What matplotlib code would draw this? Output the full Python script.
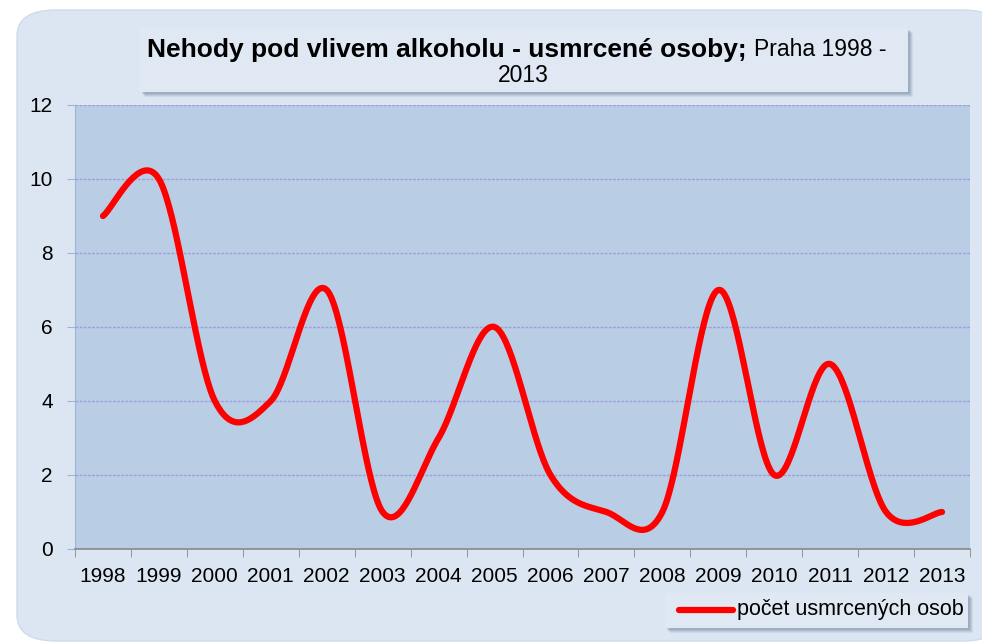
import numpy as np
import matplotlib.pyplot as plt
from matplotlib.patches import FancyBboxPatch, Rectangle

plt.rcParams['font.family'] = ['Liberation Sans', 'DejaVu Sans']

# data
years = ['1998', '1999', '2000', '2001', '2002', '2003', '2004', '2005',
         '2006', '2007', '2008', '2009', '2010', '2011', '2012', '2013']
killed = [9, 10, 4, 4, 7, 1, 3, 6, 2, 1, 1, 7, 2, 5, 1, 1]
series_name = 'počet usmrcených osob'


def smooth(xs, ys, n=40):
    # Excel-like smoothed line: cubic Bezier through points, Catmull-Rom controls
    xs = np.asarray(xs, float)
    ys = np.asarray(ys, float)
    px = np.concatenate([[xs[0]], xs, [xs[-1]]])
    py = np.concatenate([[ys[0]], ys, [ys[-1]]])
    out_x, out_y = [], []
    t = np.linspace(0, 1, n)
    for i in range(1, len(px) - 2):
        p0 = np.array([px[i], py[i]])
        p3 = np.array([px[i + 1], py[i + 1]])
        p1 = p0 + (np.array([px[i + 1], py[i + 1]]) - np.array([px[i - 1], py[i - 1]])) / 6
        p2 = p3 - (np.array([px[i + 2], py[i + 2]]) - np.array([px[i], py[i]])) / 6
        b = ((1 - t) ** 3)[:, None] * p0 + (3 * (1 - t) ** 2 * t)[:, None] * p1 \
            + (3 * (1 - t) * t ** 2)[:, None] * p2 + (t ** 3)[:, None] * p3
        out_x.extend(b[:, 0])
        out_y.extend(b[:, 1])
    return np.array(out_x), np.array(out_y)


def shadow_box(x0, y0, w, h):
    # box in pixel coords (top-left origin) with a soft shadow to bottom-right
    for k, a in [(5, 0.10), (4, 0.12), (3, 0.15), (2, 0.18)]:
        fig.patches.append(Rectangle(((x0 + k) / W, (H - y0 - h - k) / H), w / W, h / H,
                                     transform=fig.transFigure, facecolor='#5a6a88',
                                     edgecolor='none', alpha=a, zorder=-1))
    fig.patches.append(Rectangle((x0 / W, (H - y0 - h) / H), w / W, h / H,
                                 transform=fig.transFigure, facecolor='#dfe8f3',
                                 edgecolor='none', zorder=-1))


W, H = 982, 644
fig = plt.figure(figsize=(W / 100, H / 100), dpi=100)
fig.patch.set_facecolor('white')

# outer rounded panel (runs off the right edge)
panel = FancyBboxPatch((17 / W, 3 / H), 985 / W, 631 / H,
                       boxstyle='round,pad=0,rounding_size=0.04',
                       transform=fig.transFigure, facecolor='#dce6f2',
                       edgecolor='#d0dbea', linewidth=1, zorder=-2)
fig.patches.append(panel)

# title box
shadow_box(140, 28, 768, 64)

ax = fig.add_axes([75 / W, (H - 549) / H, 895 / W, 444 / H])
ax.set_zorder(2)
ax.set_facecolor('#b9cde5')

x = np.arange(len(years))
sx, sy = smooth(x, killed)
ax.plot(sx, sy, color='#ff0000', linewidth=4.5, solid_capstyle='round', zorder=3)

ax.set_xlim(-0.5, len(years) - 0.5)
ax.set_ylim(0, 12)
ax.set_yticks(range(0, 13, 2))
ax.set_yticklabels([str(v) for v in range(0, 13, 2)], fontsize=15)
ax.set_xticks(x)
ax.set_xticklabels(years, fontsize=15)
ax.set_xticks(np.arange(-0.5, len(years), 1), minor=True)
ax.tick_params(axis='x', which='major', length=0, pad=13)
ax.tick_params(axis='x', which='minor', length=6, color='#888888', direction='out')
ax.tick_params(axis='y', length=6, color='#9cb4d6', pad=10)
ax.grid(axis='y', color='#9f9ddb', linestyle=(0, (2, 1)), linewidth=1)
ax.set_axisbelow(True)
for side in ['top', 'right']:
    ax.spines[side].set_visible(False)
ax.spines['left'].set_color('#9cb4d6')
ax.spines['bottom'].set_color('#888888')
ax.spines['bottom'].set_linewidth(1.2)

# title text
t1 = fig.text(147 / W, (H - 50) / H, 'Nehody pod vlivem alkoholu - usmrcené osoby;',
              fontsize=19, fontweight='bold', va='center', ha='left')
fig.canvas.draw()
bb = t1.get_window_extent()
fig.text(bb.x1 / W + 7 / W, (H - 50) / H, 'Praha 1998 -', fontsize=16.5,
         va='center', ha='left')
fig.text(523 / W, (H - 76) / H, '2013', fontsize=16.5, va='center', ha='center')

# legend box
shadow_box(665, 593, 303, 35)
fig.lines.append(plt.Line2D([679 / W, 733 / W], [(H - 610) / H, (H - 610) / H],
                            transform=fig.transFigure, color='#ff0000',
                            linewidth=4.5, solid_capstyle='round', zorder=3))
fig.text(737 / W, (H - 610) / H, series_name, fontsize=15.5, va='center', ha='left')

fig.savefig('out.png', dpi=100)
